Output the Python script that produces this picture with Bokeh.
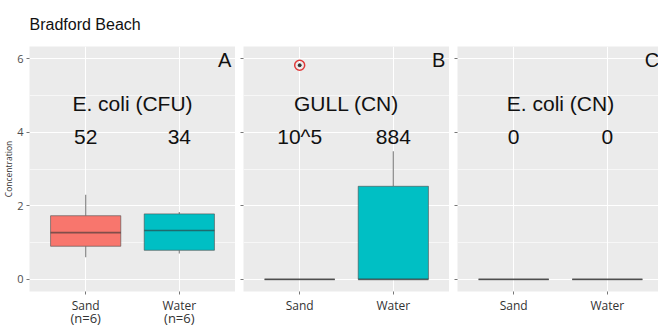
from bokeh.plotting import figure
from bokeh.layouts import row
from bokeh.models import Range1d, FixedTicker, ColumnDataSource, LinearAxis
from bokeh.core.properties import value
from bokeh.embed import file_html
from bokeh.resources import INLINE

# ---- data -------------------------------------------------------------
categories = ["Sand", "Water"]
panel_tags = ["A", "B", "C"]
panel_titles = ["E. coli (CFU)", "GULL (CN)", "E. coli (CN)"]
count_labels = [["52", "34"], ["10^5", "884"], ["0", "0"]]
sample_sizes = [["(n=6)", "(n=6)"], None, None]

# box-plot statistics per panel, ordered as in `categories`
whisker_low = [[0.60, 0.70], [0.0, 0.0], [0.0, 0.0]]
quart_1 = [[0.90, 0.79], [0.0, 0.0], [0.0, 0.0]]
medians = [[1.27, 1.33], [0.0, 0.0], [0.0, 0.0]]
quart_3 = [[1.73, 1.78], [0.0, 2.53], [0.0, 0.0]]
whisker_high = [[2.30, 1.83], [0.0, 3.48], [0.0, 0.0]]
outlier_cats = [[], ["Sand"], []]
outlier_vals = [[], [5.82], []]

y_ticks = [0, 2, 4, 6]
y_minor = [1, 3, 5]
fill_colors = ["#F8766D", "#00BFC4"]

BOX_W = 0.75
FONT_TXT = "Liberation Sans"
FONT_AX = "Open Sans"


def style_x_axis(ax, labels, size, standoff, tick_out):
    ax.major_label_overrides = labels
    ax.axis_line_color = None
    ax.major_tick_line_color = "#777777" if tick_out else None
    ax.major_tick_out = tick_out
    ax.major_tick_in = 0
    ax.minor_tick_line_color = None
    ax.major_label_standoff = standoff
    ax.major_label_text_font = FONT_AX
    ax.major_label_text_font_size = size
    ax.major_label_text_color = "#333333"


def make_panel(i, left_border, frame_w, x_end, show_labels):
    p = figure(frame_width=frame_w, frame_height=245,
               x_range=Range1d(0.4, x_end), y_range=Range1d(-0.33, 6.33),
               output_backend="svg", toolbar_location=None,
               min_border_left=left_border, min_border_right=0,
               min_border_top=46, min_border_bottom=36,
               background_fill_color="#EBEBEB", border_fill_color="white",
               outline_line_color=None)

    pos = {c: k + 1 for k, c in enumerate(categories)}
    xs = [pos[c] for c in categories]

    # grid
    p.xaxis.ticker = FixedTicker(ticks=xs)
    p.yaxis.ticker = FixedTicker(ticks=y_ticks, minor_ticks=y_minor)
    p.xgrid.grid_line_color = "white"
    p.xgrid.grid_line_width = 1.1
    p.ygrid.grid_line_color = "white"
    p.ygrid.grid_line_width = 1.1
    p.ygrid.minor_grid_line_color = "white"
    p.ygrid.minor_grid_line_width = 0.6

    # axes
    style_x_axis(p.xaxis[0], {pos[c]: c for c in categories}, "12px", 2, 3)
    if sample_sizes[i]:
        n_axis = LinearAxis(ticker=FixedTicker(ticks=xs))
        style_x_axis(n_axis, {x: s for x, s in zip(xs, sample_sizes[i])},
                     "13px", -8, 0)
        p.add_layout(n_axis, "below")

    p.yaxis.axis_line_color = None
    p.yaxis.major_tick_line_color = "#777777"
    p.yaxis.major_tick_out = 3
    p.yaxis.major_tick_in = 0
    p.yaxis.minor_tick_line_color = None
    p.yaxis.major_label_text_font = FONT_AX
    p.yaxis.major_label_text_font_size = "11px"
    p.yaxis.major_label_text_color = "#4d4d4d"
    if show_labels:
        p.yaxis.major_label_standoff = 2
        p.yaxis.axis_label = "Concentration"
        p.yaxis.axis_label_standoff = 0
        p.yaxis.axis_label_text_font = FONT_AX
        p.yaxis.axis_label_text_font_size = "8.5px"
        p.yaxis.axis_label_text_font_style = "normal"
        p.yaxis.axis_label_text_color = "#333333"
    else:
        p.yaxis.major_label_standoff = 0
        p.yaxis.major_label_overrides = {t: "" for t in y_ticks}

    # boxes
    src = ColumnDataSource(dict(
        x=xs, lo=whisker_low[i], q1=quart_1[i], med=medians[i],
        q3=quart_3[i], hi=whisker_high[i], color=fill_colors,
        left=[x - BOX_W / 2 for x in xs], right=[x + BOX_W / 2 for x in xs],
    ))
    p.segment(x0="x", y0="q3", x1="x", y1="hi", source=src,
              line_color="#8a8a8a", line_width=1.2)
    p.segment(x0="x", y0="q1", x1="x", y1="lo", source=src,
              line_color="#8a8a8a", line_width=1.2)
    p.vbar(x="x", width=BOX_W, bottom="q1", top="q3", source=src,
           fill_color="color", line_color="#4d4d4d", line_alpha=0.6,
           line_width=1)
    p.segment(x0="left", y0="med", x1="right", y1="med", source=src,
              line_color="#333333", line_alpha=0.6, line_width=1.6)

    # outliers, highlighted with a red ring
    if outlier_vals[i]:
        ox = [pos[c] for c in outlier_cats[i]]
        p.scatter(ox, outlier_vals[i], marker="circle", size=3,
                  color="#333333")
        p.scatter(ox, outlier_vals[i], marker="circle", size=10,
                  fill_color=None, line_color="#E03A3A", line_width=1.5)

    # panel annotations
    p.text(x=[1.5], y=[4.77], text=[panel_titles[i]],
           text_font=value(FONT_TXT), text_font_size=value("21px"),
           text_align="center", text_baseline="middle",
           text_color="#111111")
    p.text(x=xs, y=[3.87] * len(xs), text=count_labels[i],
           text_font=value(FONT_TXT), text_font_size=value("21px"),
           text_align="center", text_baseline="middle",
           text_color="#111111")
    p.text(x=[2.555], y=[5.97], text=[panel_tags[i]],
           text_font=value(FONT_TXT), text_font_size=value("20px"),
           text_align="right", text_baseline="middle",
           text_color="#111111")
    return p


px_per_unit = 206 / 2.2
pA = make_panel(0, 29, 206, 2.6, True)
pB = make_panel(1, 8, 206, 2.6, False)
pC = make_panel(2, 8, 201, 0.4 + 201 / px_per_unit, False)

pA.title.text = "Bradford Beach"
pA.title.text_font = FONT_TXT
pA.title.text_font_size = "16px"
pA.title.text_font_style = "normal"
pA.title.text_color = "#111111"
pA.title.align = "left"
pA.title.standoff = 27

layout = row(pA, pB, pC, spacing=0)
open("out.html", "w").write(file_html(layout, INLINE))
